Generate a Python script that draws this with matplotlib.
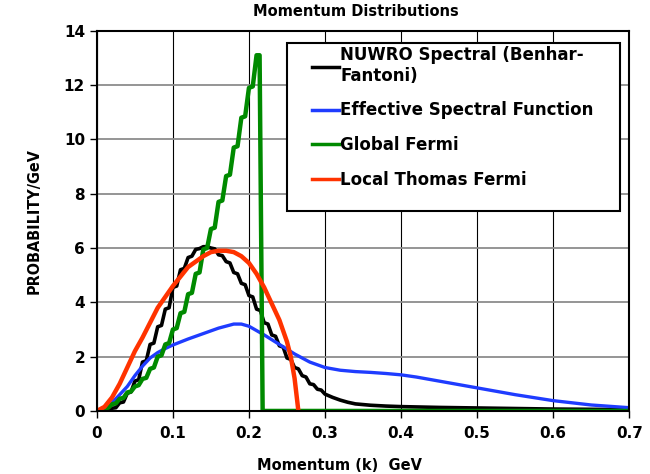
import matplotlib
matplotlib.use("Agg")
import matplotlib.pyplot as plt
from matplotlib.patches import Rectangle
from matplotlib.ticker import FuncFormatter

# NUWRO spectral (Benhar-Fantoni)
k_nuwro = [0.0, 0.005, 0.01, 0.015, 0.02, 0.025, 0.03, 0.035, 0.04, 0.045,
           0.05, 0.055, 0.06, 0.065, 0.07, 0.075, 0.08, 0.085, 0.09, 0.095,
           0.1, 0.105, 0.11, 0.115, 0.12, 0.125, 0.13, 0.135, 0.14, 0.145,
           0.15, 0.155, 0.16, 0.165, 0.17, 0.175, 0.18, 0.185, 0.19, 0.195,
           0.2, 0.205, 0.21, 0.215, 0.22, 0.225, 0.23, 0.235, 0.24, 0.245,
           0.25, 0.255, 0.26, 0.265, 0.27, 0.275, 0.28, 0.285, 0.29, 0.295,
           0.3, 0.31, 0.32, 0.33, 0.34, 0.36, 0.38, 0.4, 0.45, 0.5,
           0.55, 0.6, 0.65, 0.7]
p_nuwro = [0.0, 0.0, 0.0, 0.02, 0.1, 0.12, 0.3, 0.33, 0.65, 0.7,
           1.1, 1.15, 1.8, 1.85, 2.45, 2.5, 3.1, 3.15, 3.75, 3.8,
           4.55, 4.6, 5.2, 5.25, 5.65, 5.7, 5.95, 5.98, 6.05, 6.05,
           6.0, 5.97, 5.75, 5.72, 5.5, 5.45, 5.1, 5.05, 4.7, 4.65,
           4.25, 4.2, 3.75, 3.7, 3.25, 3.2, 2.8, 2.75, 2.4, 2.35,
           1.95, 1.9, 1.6, 1.55, 1.3, 1.25, 1.0, 0.97, 0.8, 0.77,
           0.62, 0.5, 0.4, 0.32, 0.26, 0.21, 0.18, 0.16, 0.13, 0.11,
           0.09, 0.07, 0.06, 0.05]

# effective spectral function
k_esf = [0.0, 0.01, 0.02, 0.03, 0.04, 0.05, 0.06, 0.07, 0.08, 0.09,
         0.1, 0.12, 0.14, 0.16, 0.18, 0.19, 0.2, 0.22, 0.24, 0.26,
         0.28, 0.3, 0.32, 0.34, 0.36, 0.38, 0.4, 0.42, 0.44, 0.46,
         0.5, 0.55, 0.6, 0.65, 0.7]
p_esf = [0.0, 0.08, 0.3, 0.6, 0.9, 1.3, 1.65, 1.95, 2.15, 2.3,
         2.43, 2.65, 2.85, 3.05, 3.2, 3.2, 3.12, 2.8, 2.45, 2.1,
         1.8, 1.6, 1.5, 1.45, 1.42, 1.38, 1.33, 1.25, 1.15, 1.05,
         0.85, 0.6, 0.38, 0.22, 0.12]

# global Fermi gas
k_gf = [0.0, 0.005, 0.01, 0.015, 0.02, 0.025, 0.03, 0.035, 0.04, 0.045,
        0.05, 0.055, 0.06, 0.065, 0.07, 0.075, 0.08, 0.085, 0.09, 0.095,
        0.1, 0.105, 0.11, 0.115, 0.12, 0.125, 0.13, 0.135, 0.14, 0.145,
        0.15, 0.155, 0.16, 0.165, 0.17, 0.175, 0.18, 0.185, 0.19, 0.195,
        0.2, 0.205, 0.21, 0.214, 0.218, 0.7]
p_gf = [0.0, 0.0, 0.1, 0.12, 0.25, 0.28, 0.45, 0.48, 0.68, 0.72,
        0.9, 0.95, 1.18, 1.22, 1.55, 1.6, 2.0, 2.05, 2.45, 2.5,
        3.0, 3.05, 3.6, 3.65, 4.3, 4.35, 5.05, 5.1, 5.95, 6.0,
        6.7, 6.75, 7.7, 7.75, 8.65, 8.7, 9.7, 9.75, 10.8, 10.85,
        11.9, 11.95, 13.1, 13.1, 0.0, 0.0]

# local Thomas Fermi
k_ltf = [0.0, 0.01, 0.02, 0.03, 0.04, 0.05, 0.06, 0.07, 0.08, 0.09,
         0.1, 0.11, 0.12, 0.13, 0.14, 0.15, 0.16, 0.17, 0.18, 0.19,
         0.2, 0.21, 0.22, 0.23, 0.24, 0.25, 0.255, 0.26, 0.265]
p_ltf = [0.0, 0.15, 0.5, 1.0, 1.6, 2.2, 2.7, 3.25, 3.8, 4.2,
         4.6, 4.95, 5.3, 5.5, 5.7, 5.85, 5.9, 5.9, 5.85, 5.7,
         5.45, 5.05, 4.55, 3.95, 3.35, 2.55, 2.0, 1.2, 0.0]

labels = ["NUWRO Spectral (Benhar-\nFantoni)", "Effective Spectral Function",
          "Global Fermi", "Local Thomas Fermi"]

fig = plt.figure(figsize=(6.5, 4.74), dpi=100)
ax = fig.add_axes([0.149, 0.133, 0.819, 0.802])

ax.plot(k_nuwro, p_nuwro, color="black", lw=2.6, label=labels[0])
ax.plot(k_esf, p_esf, color="#1f3cff", lw=2.4, label=labels[1])
ax.plot(k_gf, p_gf, color="#008a00", lw=3.2, label=labels[2])
ax.plot(k_ltf, p_ltf, color="#ff3300", lw=3.2, label=labels[3])

ax.set_xlim(0, 0.7)
ax.set_ylim(0, 14)
ax.set_xticks([0, 0.1, 0.2, 0.3, 0.4, 0.5, 0.6, 0.7])
ax.set_yticks(range(0, 15, 2))
ax.xaxis.set_major_formatter(FuncFormatter(lambda v, p: "0" if v == 0 else f"{v:.1f}"))
ax.grid(axis="x", color="black", lw=0.8)
ax.grid(axis="y", color="#8c8c8c", lw=1.3)
ax.set_axisbelow(True)
for s in ax.spines.values():
    s.set_linewidth(1.5)
ax.tick_params(direction="out", length=5, width=1, labelsize=11)
ax.tick_params(axis="x", pad=6)
for t in ax.get_xticklabels() + ax.get_yticklabels():
    t.set_fontweight("bold")

ax.set_title("Momentum Distributions", fontsize=10.5, fontweight="bold", pad=11, x=0.487)
ax.set_xlabel("Momentum (k)  GeV", fontsize=10.5, fontweight="bold", labelpad=12, x=0.455)
ax.set_ylabel("PROBABILITY/GeV", fontsize=11.5, fontweight="bold",
              family="DejaVu Sans", fontstretch="condensed", labelpad=16)

# legend box (Excel style, fixed size) with the entries placed inside
ax.add_patch(Rectangle((0.357, 0.526), 0.626, 0.442, transform=ax.transAxes,
                       facecolor="white", edgecolor="black", lw=1.5, zorder=4))
leg = ax.legend(loc="upper left", bbox_to_anchor=(0.404, 0.96), frameon=False,
                handlelength=1.6, handletextpad=0.1, labelspacing=1.0,
                borderpad=0, borderaxespad=0,
                prop={"weight": "bold", "size": 12})
leg.set_zorder(5)
for ln in leg.get_lines():
    ln.set_linewidth(2.5)

fig.savefig("out.png", dpi=100)
